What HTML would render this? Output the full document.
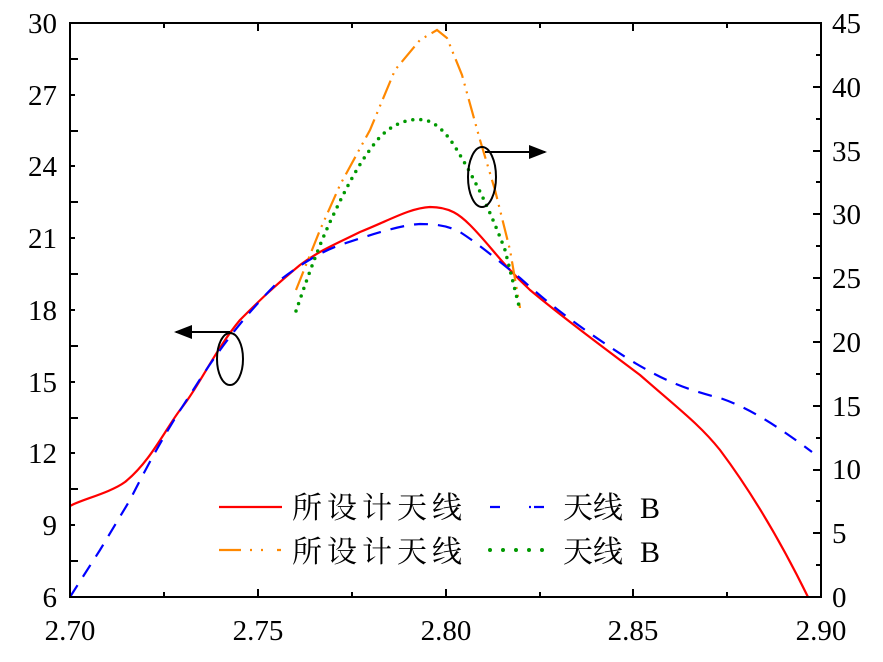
<!DOCTYPE html><html><head><meta charset="utf-8"><style>body{margin:0;background:#fff}</style></head><body>
<svg width="883" height="657" xmlns="http://www.w3.org/2000/svg" font-family="Liberation Serif, Noto Serif CJK SC, serif" font-size="29">
<defs><marker id="ah" markerWidth="20" markerHeight="16" refX="16" refY="7" orient="auto" markerUnits="userSpaceOnUse"><path d="M0,0 L18,7 L0,14z" fill="#000"/></marker></defs>
<g fill="none" stroke-width="2.2">
<path stroke="#f00" d="M70,506 C80,500 110,493 125,482 C150,462 165,430 180,410 C200,385 215,350 240,320 C260,300 270,290 300,265 C320,250 340,242 360,232 C390,220 410,208 430,207 C450,207 460,215 470,225 C490,245 500,262 530,290 C560,315 600,345 640,375 C680,410 700,425 720,450 C750,490 780,540 808,597"/>
<path stroke="#00f" stroke-dasharray="14,10" d="M70,597 L100,550 L130,500 C150,460 170,425 190,395 C215,355 240,320 280,280 C300,265 320,252 340,245 C370,235 400,225 420,224 C440,224 450,227 460,232 C480,245 500,262 520,278 C550,305 580,328 630,360 C660,378 680,388 720,398 C750,408 780,428 812,452"/>
<path stroke="#f80" stroke-dasharray="20,6,2,6,2,6" d="M296,290 L320,230 L340,185 L370,130 L395,70 L420,40 L437,30 L447,38 L462,75 L480,140 L495,190 L510,250 L520,308"/>
<path stroke="#090" stroke-width="3.5" stroke-linecap="round" stroke-dasharray="0,8" d="M296,311 C305,285 315,255 330,222 C345,190 360,160 380,137 C395,122 410,118 425,120 C440,124 450,138 460,155 C475,180 490,210 505,250 L520,310"/>
<line x1="230" y1="332" x2="176" y2="332" stroke="#000" stroke-width="2" marker-end="url(#ah)"/>
<line x1="485" y1="152" x2="545" y2="152" stroke="#000" stroke-width="2" marker-end="url(#ah)"/>
<ellipse cx="230" cy="359" rx="13" ry="26" stroke="#000" stroke-width="2"/>
<ellipse cx="482" cy="177" rx="14" ry="30" stroke="#000" stroke-width="2"/>
<rect x="70" y="23" width="751" height="574" stroke="#000" stroke-width="2"/>
</g>
<g stroke="#000" stroke-width="2">
<path d="M70,561h8M70,489h8M70,418h8M70,346h8M70,274h8M70,202h8M70,131h8M70,59h8M70,525h5M70,453h5M70,382h5M70,310h5M70,238h5M70,166h5M70,95h5"/>
<path d="M821,533h-8M821,470h-8M821,406h-8M821,342h-8M821,278h-8M821,214h-8M821,151h-8M821,87h-8M821,565h-5M821,501h-5M821,438h-5M821,374h-5M821,310h-5M821,246h-5M821,182h-5M821,119h-5M821,55h-5"/>
<path d="M258,597v-8M446,597v-8M633,597v-8M164,597v-5M352,597v-5M540,597v-5M727,597v-5"/>
<path d="M258,23v8M446,23v8M633,23v8M164,23v5M352,23v5M540,23v5M727,23v5"/>
</g>
<g text-anchor="end">
<text x="57" y="607">6</text><text x="57" y="535">9</text><text x="57" y="463">12</text><text x="57" y="392">15</text><text x="57" y="320">18</text><text x="57" y="248">21</text><text x="57" y="176">24</text><text x="57" y="105">27</text><text x="57" y="33">30</text>
</g>
<g>
<text x="832" y="607">0</text><text x="832" y="543">5</text><text x="832" y="479">10</text><text x="832" y="416">15</text><text x="832" y="352">20</text><text x="832" y="288">25</text><text x="832" y="224">30</text><text x="832" y="161">35</text><text x="832" y="97">40</text><text x="832" y="33">45</text>
</g>
<g text-anchor="middle">
<text x="70" y="640">2.70</text><text x="258" y="640">2.75</text><text x="446" y="640">2.80</text><text x="633" y="640">2.85</text><text x="821" y="640">2.90</text>
</g>
<g stroke-width="2.2">
<line x1="219" y1="507" x2="282" y2="507" stroke="#f00"/>
<path d="M490,507h10M529,507h2M534,507h10" stroke="#00f"/>
<path d="M219,550h22M250,550h2M261,550h2M277,550h4" stroke="#f80"/>
<path d="M490,550h0M503,550h0M516,550h0M529,550h0M542,550h0" stroke="#090" stroke-width="4" stroke-linecap="round"/>
</g>
<g font-family="Liberation Serif, Noto Serif CJK SC, serif" font-size="30">
<text x="292" y="518" textLength="170">所设计天线</text><text x="563" y="518">天线</text><text x="640" y="518">B</text>
<text x="292" y="562" textLength="170">所设计天线</text><text x="563" y="562">天线</text><text x="640" y="562">B</text>
</g>
</svg></body></html>
